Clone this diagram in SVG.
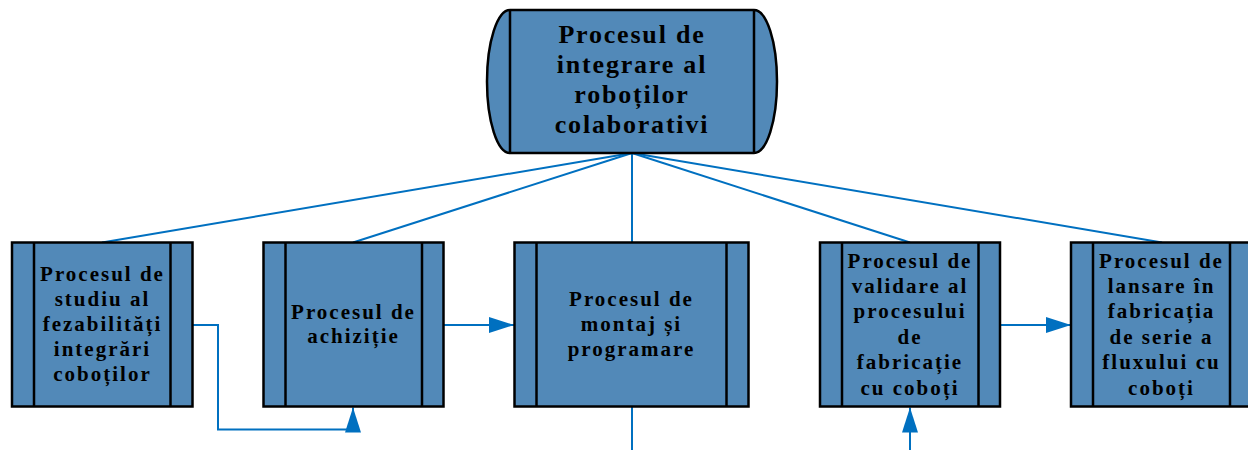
<svg xmlns="http://www.w3.org/2000/svg" width="1248" height="450" viewBox="0 0 1248 450">
  <style>
    .box { fill: #5289B8; stroke: #000; stroke-width: 2.5; }
    .bar { stroke: #000; stroke-width: 2.5; fill: none; }
    .lbl { font-family: "Liberation Serif", "Times New Roman", serif; font-weight: bold; font-size: 21px; letter-spacing: 2px; fill: #000; text-anchor: middle; }
    .big { font-size: 26px; letter-spacing: 1.8px; }
    .wire { stroke: #0070C0; stroke-width: 2; fill: none; }
  </style>
  <defs>
    <marker id="arrow" viewBox="0 0 25 16" refX="25" refY="8" markerWidth="25" markerHeight="16" markerUnits="userSpaceOnUse" orient="auto">
      <path d="M0,0 L25,8 L0,16 Z" fill="#0070C0"/>
    </marker>
  </defs>

  <rect width="1248" height="450" fill="#fff"/>

  <g id="connectors">
    <path class="wire" d="M632,153 L102,242.5"/>
    <path class="wire" d="M632,153 L353,242.5"/>
    <path class="wire" d="M632,153 L632,242.5"/>
    <path class="wire" d="M632,153 L910,242.5"/>
    <path class="wire" d="M632,153 L1162,242.5"/>
    <path class="wire" d="M192,325 H218 V429.5 H353 V407.5" marker-end="url(#arrow)"/>
    <path class="wire" d="M443,325 H514" marker-end="url(#arrow)"/>
    <path class="wire" d="M632,407 V450"/>
    <path class="wire" d="M910,450 V407.5" marker-end="url(#arrow)"/>
    <path class="wire" d="M1000,325 H1071" marker-end="url(#arrow)"/>
  </g>

  <g id="integrare">
    <path class="box" d="M510,10 H754 A23,71.5 0 0 1 754,153 H510 A23,71.5 0 0 1 510,10 Z"/>
    <path class="bar" d="M510,10 V153 M754,10 V153"/>
    <text class="lbl big" x="632" y="43">Procesul de</text>
    <text class="lbl big" x="632" y="73">integrare al</text>
    <text class="lbl big" x="632" y="103">roboților</text>
    <text class="lbl big" x="632" y="133">colaborativi</text>
  </g>

  <g id="studiu">
    <rect class="box" x="12" y="242.5" width="180.5" height="164"/>
    <path class="bar" d="M34,242.5 V406.5 M170.5,242.5 V406.5"/>
    <text class="lbl" x="102.5" y="281">Procesul de</text>
    <text class="lbl" x="102.5" y="306">studiu al</text>
    <text class="lbl" x="102.5" y="331">fezabilități</text>
    <text class="lbl" x="102.5" y="356">integrări</text>
    <text class="lbl" x="102.5" y="381">coboților</text>
  </g>

  <g id="achizitie">
    <rect class="box" x="263.5" y="242.5" width="180" height="164"/>
    <path class="bar" d="M285.5,242.5 V406.5 M422,242.5 V406.5"/>
    <text class="lbl" x="353.5" y="319">Procesul de</text>
    <text class="lbl" x="353.5" y="343">achiziție</text>
  </g>

  <g id="montaj">
    <rect class="box" x="514.5" y="242.5" width="234" height="164"/>
    <path class="bar" d="M536.5,242.5 V406.5 M726.5,242.5 V406.5"/>
    <text class="lbl" x="631.5" y="306">Procesul de</text>
    <text class="lbl" x="631.5" y="331">montaj și</text>
    <text class="lbl" x="631.5" y="356">programare</text>
  </g>

  <g id="validare">
    <rect class="box" x="820" y="242.5" width="180" height="164"/>
    <path class="bar" d="M842,242.5 V406.5 M978.5,242.5 V406.5"/>
    <text class="lbl" x="910" y="268">Procesul de</text>
    <text class="lbl" x="910" y="293">validare al</text>
    <text class="lbl" x="910" y="318">procesului</text>
    <text class="lbl" x="910" y="344">de</text>
    <text class="lbl" x="910" y="369">fabricație</text>
    <text class="lbl" x="910" y="395">cu coboți</text>
  </g>

  <g id="lansare">
    <rect class="box" x="1071" y="242.5" width="180" height="164"/>
    <path class="bar" d="M1093,242.5 V406.5 M1230,242.5 V406.5"/>
    <text class="lbl" x="1161.5" y="268">Procesul de</text>
    <text class="lbl" x="1161.5" y="293">lansare în</text>
    <text class="lbl" x="1161.5" y="318">fabricația</text>
    <text class="lbl" x="1161.5" y="344">de serie a</text>
    <text class="lbl" x="1161.5" y="369">fluxului cu</text>
    <text class="lbl" x="1161.5" y="395">coboți</text>
  </g>
</svg>
